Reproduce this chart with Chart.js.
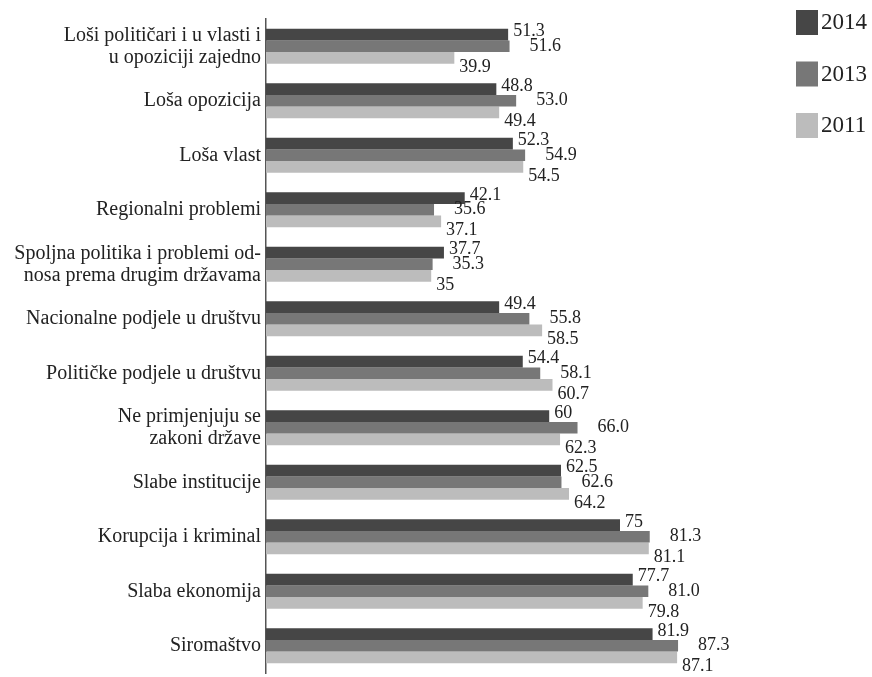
<!DOCTYPE html>
<html lang="sr">
<head>
    <meta charset="UTF-8">
    <title>Problemi u društvu</title>
    <script src="https://cdn.jsdelivr.net/npm/chart.js"></script>
    <style>
        body { margin: 0; background: #fff; }
        #wrap { width: 872px; height: 677px; position: relative; }
    </style>
</head>
<body>
    <div id="wrap">
      <canvas id="grafico1"></canvas>
    </div>

    <script>
        // kategorije (odozgo prema dolje)
        const kategorije = [
          ['Loši političari i u vlasti i', 'u opoziciji zajedno'],
          'Loša opozicija',
          'Loša vlast',
          'Regionalni problemi',
          ['Spoljna politika i problemi od-', 'nosa prema drugim državama'],
          'Nacionalne podjele u društvu',
          'Političke podjele u društvu',
          ['Ne primjenjuju se', 'zakoni države'],
          'Slabe institucije',
          'Korupcija i kriminal',
          'Slaba ekonomija',
          'Siromaštvo'
        ]
        const godine = ['2014', '2013', '2011']
        const v2014 = [51.3, 48.8, 52.3, 42.1, 37.7, 49.4, 54.4, 60, 62.5, 75, 77.7, 81.9]
        const v2013 = [51.6, 53.0, 54.9, 35.6, 35.3, 55.8, 58.1, 66.0, 62.6, 81.3, 81.0, 87.3]
        const v2011 = [39.9, 49.4, 54.5, 37.1, 35, 58.5, 60.7, 62.3, 64.2, 81.1, 79.8, 87.1]
        // tekst oznaka kako je ispisan na slici
        const t2014 = ['51.3', '48.8', '52.3', '42.1', '37.7', '49.4', '54.4', '60', '62.5', '75', '77.7', '81.9']
        const t2013 = ['51.6', '53.0', '54.9', '35.6', '35.3', '55.8', '58.1', '66.0', '62.6', '81.3', '81.0', '87.3']
        const t2011 = ['39.9', '49.4', '54.5', '37.1', '35', '58.5', '60.7', '62.3', '64.2', '81.1', '79.8', '87.1']

        const boje = ['#464646', '#777777', '#bcbcbc']
        const serif = '"Liberation Serif", "DejaVu Serif", serif'

        // oznake vrijednosti pored stubića
        const oznake = {
          id: 'oznake',
          afterDatasetsDraw(chart) {
            const ctx = chart.ctx
            const tekstovi = [t2014, t2013, t2011]
            const dx = [5, 20, 5]
            const dy = [-3, 0, 9]
            ctx.save()
            ctx.font = '18px ' + serif
            ctx.fillStyle = '#222'
            ctx.textAlign = 'left'
            ctx.textBaseline = 'middle'
            chart.data.datasets.forEach((ds, i) => {
              chart.getDatasetMeta(i).data.forEach((bar, j) => {
                ctx.fillText(tekstovi[i][j], bar.x + dx[i], bar.y + dy[i])
              })
            })
            ctx.restore()
          }
        }

        // legenda gore desno
        const legenda = {
          id: 'legenda',
          afterDraw(chart) {
            const ctx = chart.ctx
            ctx.save()
            ctx.font = '23px ' + serif
            ctx.textAlign = 'left'
            ctx.textBaseline = 'middle'
            chart.data.datasets.forEach((ds, i) => {
              const y = 10 + i * 51.5
              ctx.fillStyle = ds.backgroundColor
              ctx.fillRect(796, y, 22, 25)
              ctx.fillStyle = '#222'
              ctx.fillText(ds.label, 821, y + 13)
            })
            ctx.restore()
          }
        }

        const ctx = document.getElementById('grafico1')
        const grafico1 = new Chart(ctx, {
          type: 'bar',
          data: {
            labels: kategorije,
            datasets: [
              { label: godine[0], data: v2014, backgroundColor: boje[0] },
              { label: godine[1], data: v2013, backgroundColor: boje[1] },
              { label: godine[2], data: v2011, backgroundColor: boje[2] }
            ]
          },
          options: {
            indexAxis: 'y',
            responsive: true,
            maintainAspectRatio: false,
            animation: false,
            datasets: {
              bar: { barPercentage: 1, categoryPercentage: 0.645 }
            },
            layout: { padding: { top: 19, bottom: 4, right: 134 } },
            plugins: {
              legend: { display: false },
              tooltip: { enabled: false }
            },
            scales: {
              x: {
                min: 0,
                max: 100,
                display: false
              },
              y: {
                grid: { display: false, drawTicks: false },
                border: { display: true, color: '#555', width: 1.5 },
                ticks: {
                  color: '#222',
                  padding: 5,
                  font: { family: serif, size: 20, lineHeight: 1.1 }
                },
                afterFit(scale) {
                  scale.width = 266
                  scale.paddingTop = 0
                  scale.paddingBottom = 0
                }
              }
            }
          },
          plugins: [oznake, legenda]
        })
    </script>
</body>
</html>
